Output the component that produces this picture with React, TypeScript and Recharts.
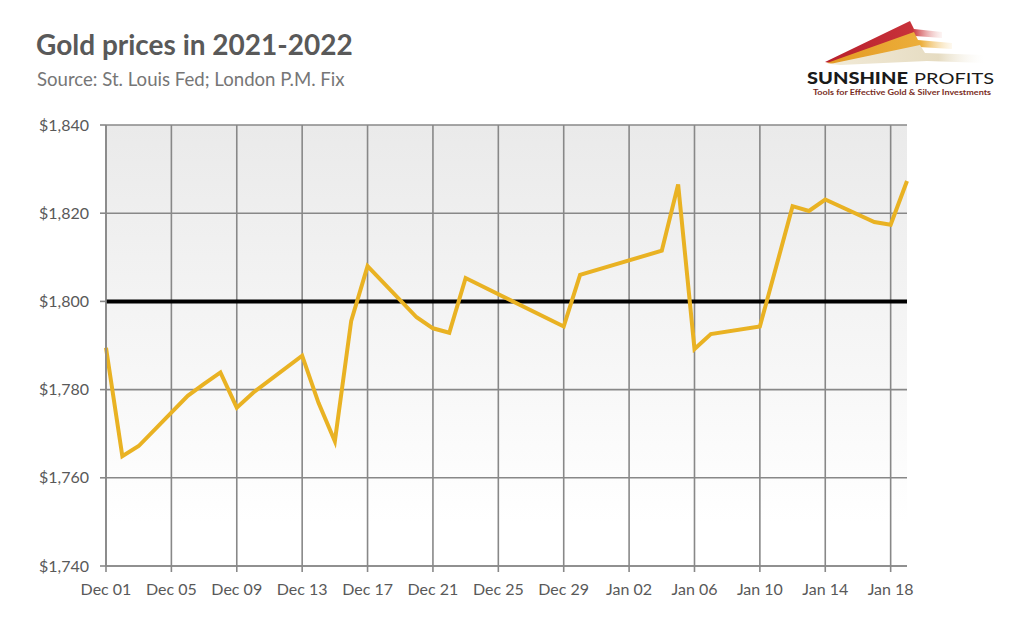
import { LineChart, Line, XAxis, YAxis, CartesianGrid, ReferenceLine } from 'recharts'

// London P.M. fix, trading days only
const dates = [
  '2021-12-01', '2021-12-02', '2021-12-03', '2021-12-06', '2021-12-07', '2021-12-08',
  '2021-12-09', '2021-12-10', '2021-12-13', '2021-12-14', '2021-12-15', '2021-12-16',
  '2021-12-17', '2021-12-20', '2021-12-21', '2021-12-22', '2021-12-23', '2021-12-29',
  '2021-12-30', '2022-01-04', '2022-01-05', '2022-01-06', '2022-01-07', '2022-01-10',
  '2022-01-11', '2022-01-12', '2022-01-13', '2022-01-14', '2022-01-17', '2022-01-18',
  '2022-01-19'
]

const prices = [
  1789.5, 1764.9, 1767.2, 1778.6, 1781.3, 1783.9,
  1775.9, 1779.3, 1787.7, 1777.0, 1768.3, 1795.6,
  1808.0, 1796.4, 1793.9, 1792.9, 1805.3, 1794.3,
  1806.0, 1811.5, 1826.5, 1789.2, 1792.6, 1794.3,
  1807.9, 1821.6, 1820.5, 1823.1, 1818.0, 1817.4,
  1827.3
]

const xTickLabels = [
  'Dec 01', 'Dec 05', 'Dec 09', 'Dec 13', 'Dec 17', 'Dec 21', 'Dec 25',
  'Dec 29', 'Jan 02', 'Jan 06', 'Jan 10', 'Jan 14', 'Jan 18'
]

const yTicks = [1740, 1760, 1780, 1800, 1820, 1840]

const START = Date.UTC(2021, 11, 1)
const DAY = 86400000
const LAST_DAY = 49

const dayIndex = (d: string) => {
  const [y, m, dd] = d.split('-').map(Number)
  return Math.round((Date.UTC(y, m - 1, dd) - START) / DAY)
}

const chartData = dates.map((d, i) => ({ day: dayIndex(d), price: prices[i] }))
const xTicks = xTickLabels.map((_, i) => i * 4)

const FONT = 'Lato, "Open Sans", sans-serif'
const GRID = '#888888'
const TEXT = '#595959'

function Logo() {
  return (
    <svg width={220} height={100} style={{ position: 'absolute', left: 800, top: 8 }}>
      <defs>
        <linearGradient id="fadeRed" x1="0" x2="1" y1="0" y2="0">
          <stop offset="0%" stopColor="#b8202c" />
          <stop offset="75%" stopColor="#c8323a" />
          <stop offset="100%" stopColor="#f2c9c4" stopOpacity={0.2} />
        </linearGradient>
        <linearGradient id="fadeGold" x1="0" x2="1" y1="0" y2="0">
          <stop offset="0%" stopColor="#e39a24" />
          <stop offset="75%" stopColor="#ecae3a" />
          <stop offset="100%" stopColor="#f7dfae" stopOpacity={0.2} />
        </linearGradient>
        <linearGradient id="fadeSand" x1="0" x2="1" y1="0" y2="0">
          <stop offset="0%" stopColor="#f1ead7" />
          <stop offset="70%" stopColor="#e6dcc2" />
          <stop offset="100%" stopColor="#ffffff" stopOpacity={0.2} />
        </linearGradient>
      </defs>
      <polygon points="25,54 110,13 114,21 142,24 142,30 115,28 30,55" fill="url(#fadeRed)" />
      <polygon points="27,55 114,24 118,32 152,35 152,41 119,39 34,56" fill="url(#fadeGold)" />
      <polygon points="30,56 120,37 125,45 185,47 185,55 127,53 40,57" fill="url(#fadeSand)" />
      <text x={7} y={76} fontFamily={FONT} fontSize={16} fill="#1a1a1a" textLength={187} lengthAdjust="spacingAndGlyphs">
        <tspan fontWeight={900}>SUNSHINE</tspan>
        <tspan dx={5} fontWeight={400}>PROFITS</tspan>
      </text>
      <text x={13} y={87} fontFamily={FONT} fontSize={8} fontWeight={700} fill="#7a2d1e" textLength={178} lengthAdjust="spacingAndGlyphs">
        Tools for Effective Gold &amp; Silver Investments
      </text>
    </svg>
  )
}

export default function App() {
  return (
    <div style={{ position: 'relative', width: 1024, height: 625, margin: -8, background: '#fff', fontFamily: FONT }}>
      <svg width={1024} height={625} style={{ position: 'absolute', left: 0, top: 0 }}>
        <rect x={1.5} y={1.5} width={1020} height={621} rx={16} ry={16} fill="none" stroke="#c4c4c4" strokeWidth={2} />
      </svg>
      <div style={{ position: 'absolute', left: 0, top: 0 }}>
        <LineChart width={1024} height={625} data={chartData} margin={{ top: 125, right: 117, bottom: 29, left: 0 }}>
          <defs>
            <linearGradient id="plotBg" x1="0" x2="0" y1="0" y2="1">
              <stop offset="0%" stopColor="#eaeaea" />
              <stop offset="90%" stopColor="#ffffff" />
            </linearGradient>
          </defs>
          <CartesianGrid stroke={GRID} strokeWidth={1.6} vertical={false} fill="url(#plotBg)" fillOpacity={1} />
          {xTicks.map((t) => (
            <ReferenceLine key={t} x={t} stroke={GRID} strokeWidth={1.6} />
          ))}
          <XAxis
            type="number"
            dataKey="day"
            domain={[0, LAST_DAY]}
            ticks={xTicks}
            interval={0}
            tickFormatter={(v: number) => xTickLabels[v / 4]}
            height={30}
            tickSize={6}
            tickMargin={12}
            axisLine={{ stroke: GRID, strokeWidth: 1.6 }}
            tickLine={{ stroke: GRID, strokeWidth: 1.6 }}
            tick={{ fill: TEXT, fontSize: 16, fontFamily: FONT }}
          />
          <YAxis
            type="number"
            domain={[1740, 1840]}
            ticks={yTicks}
            interval={0}
            tickFormatter={(v: number) => `$${v.toLocaleString('en-US')}`}
            width={106}
            tickSize={6}
            tickMargin={11}
            axisLine={{ stroke: GRID, strokeWidth: 1.6 }}
            tickLine={{ stroke: GRID, strokeWidth: 1.6 }}
            tick={{ fill: TEXT, fontSize: 16, fontFamily: FONT }}
          />
          <ReferenceLine y={1800} stroke="#000000" strokeWidth={4} />
          <Line
            type="linear"
            dataKey="price"
            stroke="#e9b223"
            strokeWidth={4}
            dot={false}
            activeDot={false}
            isAnimationActive={false}
          />
        </LineChart>
      </div>
      <div style={{ position: 'absolute', left: 36, top: 27, fontSize: 28, fontWeight: 700, color: TEXT, whiteSpace: 'nowrap' }}>
        Gold prices in 2021-2022
      </div>
      <div style={{ position: 'absolute', left: 37, top: 68, fontSize: 18.6, color: '#767676', whiteSpace: 'nowrap' }}>
        Source: St. Louis Fed; London P.M. Fix
      </div>
      <Logo />
    </div>
  )
}
